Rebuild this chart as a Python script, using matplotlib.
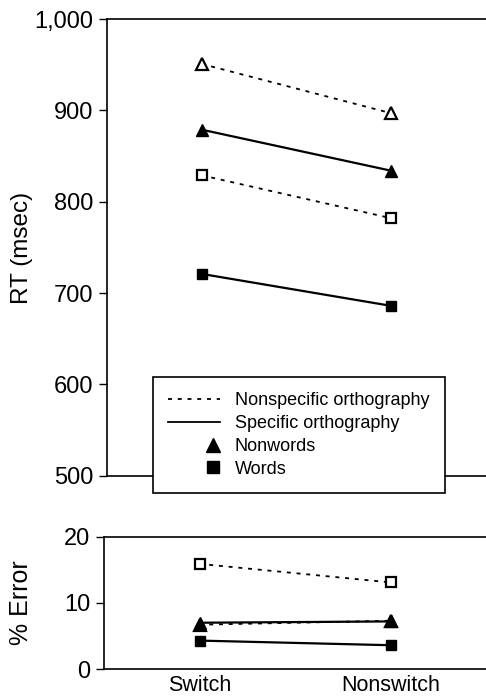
import matplotlib
matplotlib.use("Agg")
import matplotlib.pyplot as plt
from matplotlib.lines import Line2D
from matplotlib.legend_handler import HandlerLine2D
from matplotlib.ticker import FuncFormatter

plt.rcParams["font.family"] = ["Liberation Sans", "DejaVu Sans"]

conditions = ["Switch", "Nonswitch"]

# RT (msec)
rt_nonspec_nonwords = [951, 897]
rt_spec_nonwords = [879, 834]
rt_nonspec_words = [829, 782]
rt_spec_words = [721, 686]

# % Error
err_nonspec_nonwords = [6.7, 7.3]
err_spec_nonwords = [7.0, 7.2]
err_nonspec_words = [15.9, 13.1]
err_spec_words = [4.3, 3.6]

DOT = (0, (2.2, 3.2))


class RightMarker(HandlerLine2D):
    def get_xdata(self, legend, xdescent, ydescent, width, height, fontsize):
        x = [-xdescent + width * 0.85]
        return x, x


def draw_series(ax, nn, sn, nw, sw):
    x = range(len(conditions))
    ax.plot(x, nn, ls=DOT, color="black", lw=1.3, marker="^", ms=8,
            mfc="white", mec="black", mew=1.6)
    ax.plot(x, nw, ls=DOT, color="black", lw=1.3, marker="s", ms=6.5,
            mfc="white", mec="black", mew=1.6)
    ax.plot(x, sn, ls="-", color="black", lw=1.6, marker="^", ms=8.5,
            mfc="black", mec="black")
    ax.plot(x, sw, ls="-", color="black", lw=1.6, marker="s", ms=6.5,
            mfc="black", mec="black")
    ax.set_xlim(-0.5, 1.5)
    ax.spines["right"].set_visible(False)
    for s in ("left", "top", "bottom"):
        ax.spines[s].set_linewidth(1.2)
    ax.tick_params(axis="y", direction="out", length=6, width=1,
                   labelsize=17, pad=4)
    ax.tick_params(axis="x", length=0)


fig = plt.figure(figsize=(4.86, 6.98), dpi=100)
ax1 = fig.add_axes([0.220, 0.3185, 0.780, 0.654])
ax2 = fig.add_axes([0.214, 0.0415, 0.786, 0.1895])

draw_series(ax1, rt_nonspec_nonwords, rt_spec_nonwords,
            rt_nonspec_words, rt_spec_words)
ax1.set_ylim(500, 1000)
ax1.set_yticks([500, 600, 700, 800, 900, 1000])
ax1.yaxis.set_major_formatter(FuncFormatter(lambda v, p: f"{int(v):,}"))
ax1.set_xticks([])
ax1.set_ylabel("RT (msec)", fontsize=17.5)
ax1.yaxis.set_label_coords(-0.195, 0.5)

draw_series(ax2, err_nonspec_nonwords, err_spec_nonwords,
            err_nonspec_words, err_spec_words)
ax2.set_ylim(0, 20)
ax2.set_yticks([0, 10, 20])
ax2.set_xticks([0, 1])
ax2.set_xticklabels(conditions, fontsize=15.5)
ax2.tick_params(axis="x", pad=4)
ax2.set_ylabel("% Error", fontsize=18)
ax2.yaxis.set_label_coords(-0.186, 0.5)

handles = [
    Line2D([], [], ls=(0, (2.2, 3.2)), color="black", lw=1.3),
    Line2D([], [], ls="-", color="black", lw=1.3),
    Line2D([], [], ls="none", marker="^", ms=10, color="black"),
    Line2D([], [], ls="none", marker="s", ms=9, color="black"),
]
labels = ["Nonspecific orthography", "Specific orthography",
          "Nonwords", "Words"]
leg = ax1.legend(handles, labels, loc="lower left",
                 bbox_to_anchor=(0.121, -0.038), borderaxespad=0,
                 fontsize=13, frameon=True, fancybox=False,
                 edgecolor="black", framealpha=1, handlelength=2.9,
                 handletextpad=0.8, borderpad=0.85, labelspacing=0.32,
                 handler_map={handles[2]: RightMarker(),
                              handles[3]: RightMarker()})
leg.get_frame().set_linewidth(1.2)
leg.set_zorder(10)

fig.savefig("out.png", dpi=100)
